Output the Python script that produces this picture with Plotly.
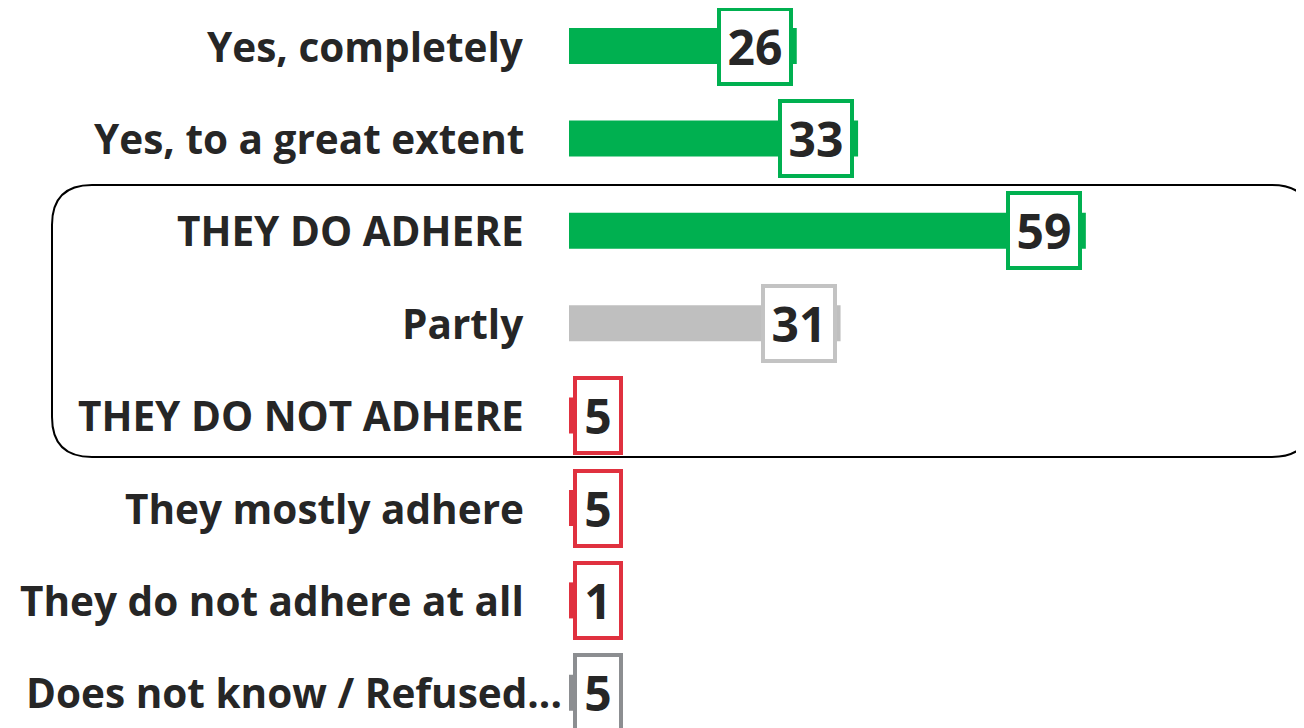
import plotly.graph_objects as go

categories = ["Yes, completely", "Yes, to a great extent", "THEY DO ADHERE", "Partly",
              "THEY DO NOT ADHERE", "They mostly adhere", "They do not adhere at all",
              "Does not know / Refused..."]
values = [26, 33, 59, 31, 5, 5, 1, 5]
bar_colors = ["#00B050", "#00B050", "#00B050", "#BFBFBF", "#E0313F", "#E0313F", "#E0313F", "#8C8E91"]
box_colors = ["#00B050", "#00B050", "#00B050", "#C3C3C3", "#E0313F", "#E0313F", "#E0313F", "#8C8E91"]

OFF = 8  # page body margin
W, H = 1304, 728
L = 569 - OFF
px_per_unit = 8.76
xmax = (W - L) / px_per_unit
row0, step = 46 - OFF, 92.4
ypos = list(range(len(categories)))
ytop = -row0 / step
ybot = (H - row0) / step

fig = go.Figure()
fig.add_trace(go.Bar(
    x=values, y=ypos, orientation="h", marker=dict(color=bar_colors, line=dict(width=0)),
    width=0.39, hoverinfo="skip"))

FONT = "Open Sans"
min_right = 6.0
for i, (c, v) in enumerate(zip(categories, values)):
    last = i == len(categories) - 1
    fig.add_annotation(
        x=((564 - OFF) - L) / (W - L) if last else ((526 - OFF) - L) / (W - L), xref="paper",
        y=i, yref="y", text=f"<b>{c}</b>", showarrow=False, xanchor="right", yanchor="middle",
        font=dict(family=FONT, size=40.5, color="#262626"))
    txt = str(v)
    bw = 68 if len(txt) > 1 else 42
    fig.add_annotation(
        x=max(v, min_right), y=i, xref="x", yref="y", text=f"<b>{txt}</b>", showarrow=False,
        xanchor="right", yanchor="middle", xshift=-4 if v >= min_right else 1, yshift=0,
        width=bw, height=71, valign="middle",
        bgcolor="white", bordercolor=box_colors[i], borderwidth=4, borderpad=0,
        font=dict(family=FONT, size=48, color="#262626"))

# rounded rectangle around rows 2..4
def P(px, py):
    a = ((px - OFF) - L) / (W - L)
    b = 1 - (py - OFF) / H
    return f"{a:.5f},{b:.5f}"

x0, x1, y0, y1, r = 52, 1312, 185, 457, 40
path = (f"M {P(x0 + r, y0)} L {P(x1 - r, y0)} Q {P(x1, y0)} {P(x1, y0 + r)} "
        f"L {P(x1, y1 - r)} Q {P(x1, y1)} {P(x1 - r, y1)} L {P(x0 + r, y1)} "
        f"Q {P(x0, y1)} {P(x0, y1 - r)} L {P(x0, y0 + r)} Q {P(x0, y0)} {P(x0 + r, y0)} Z")
fig.add_shape(type="path", path=path, xref="paper", yref="paper",
              line=dict(color="black", width=2), fillcolor="rgba(0,0,0,0)", layer="below")

fig.update_layout(
    width=W, height=H, margin=dict(l=L, r=0, t=0, b=0),
    plot_bgcolor="white", paper_bgcolor="white", showlegend=False,
    xaxis=dict(range=[0, xmax], visible=False, fixedrange=True),
    yaxis=dict(range=[ybot, ytop], visible=False, fixedrange=True),
)
fig.write_html("out.html")
